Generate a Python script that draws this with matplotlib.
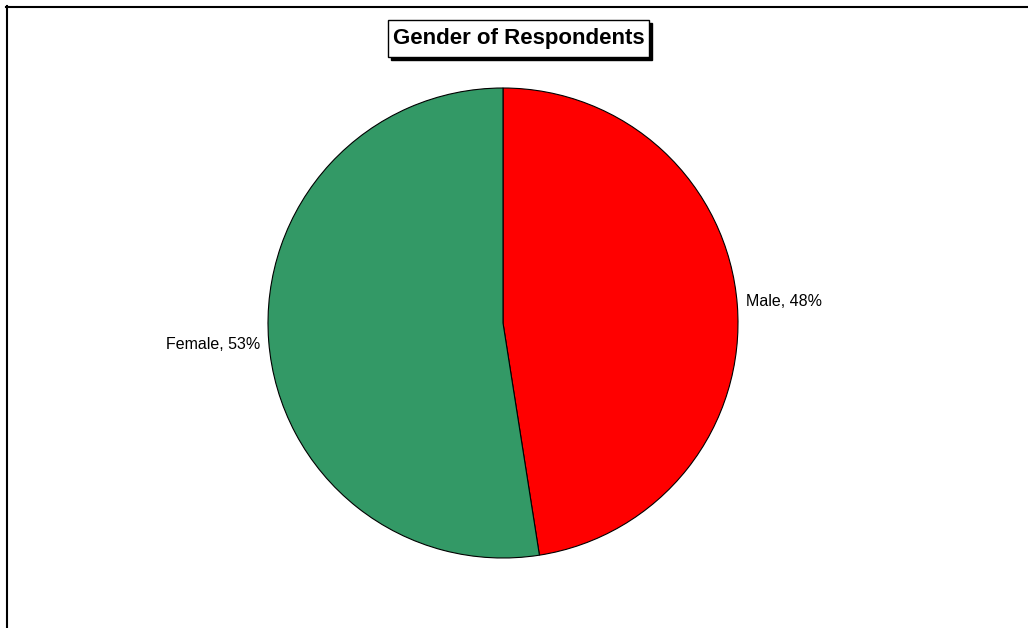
import numpy as np
import matplotlib.pyplot as plt
from matplotlib.lines import Line2D
from matplotlib.patches import Rectangle

plt.rcParams['font.family'] = ['Liberation Sans', 'DejaVu Sans']

labels = ["Male", "Female"]
shares = [48, 53]
colors = ["#FF0000", "#339966"]
title = "Gender of Respondents"

W, H = 1028, 628
fig = plt.figure(figsize=(W / 100, H / 100), dpi=100)
fig.patch.set_facecolor("white")

# pie centred at (503, 323) px with radius 235 px
cx, cy, r = 503, 323, 235
ax = fig.add_axes([(cx - r) / W, (H - cy - r) / H, 2 * r / W, 2 * r / H])
wedges, _ = ax.pie(shares, colors=colors, startangle=90, counterclock=False,
                   wedgeprops=dict(edgecolor="black", linewidth=0.8))
ax.set_xlim(-1, 1)
ax.set_ylim(-1, 1)
ax.set_aspect("equal")
ax.axis("off")

# data labels outside each slice, at the slice's mid angle
for w, lab, val in zip(wedges, labels, shares):
    mid = np.deg2rad((w.theta1 + w.theta2) / 2)
    x = np.cos(mid)
    y = np.sin(mid)
    ha = "left" if x > 0 else "right"
    ax.text(1.035 * np.sign(x), 1.19 * y, f"{lab}, {val}%", ha=ha, va="center",
            fontsize=11.5, color="black")

# title, boxed with a drop shadow
t = fig.text(518.5 / W, 1 - 38.5 / H, title, ha="center", va="center",
             fontsize=16, fontweight="bold", color="black", zorder=5)
fig.canvas.draw()
bb = t.get_window_extent()
px, py = 5, 8
x0, y0 = (bb.x0 - px) / W, (bb.y0 - py) / H
bw, bh = (bb.width + 2 * px) / W, (bb.height + 2 * py) / H
fig.add_artist(Rectangle((x0 + 3 / W, y0 - 3 / H), bw, bh, transform=fig.transFigure,
                         facecolor="black", edgecolor="black", zorder=3))
fig.add_artist(Rectangle((x0, y0), bw, bh, transform=fig.transFigure,
                         facecolor="white", edgecolor="black", linewidth=1.0, zorder=4))

# chart area frame (top and left edges)
fig.add_artist(Line2D([6 / W, 1.0], [1 - 6.5 / H, 1 - 6.5 / H],
                      transform=fig.transFigure, color="black", linewidth=1.5))
fig.add_artist(Line2D([6.5 / W, 6.5 / W], [0.0, 1 - 6 / H],
                      transform=fig.transFigure, color="black", linewidth=1.5))

fig.savefig("out.png", dpi=100)
